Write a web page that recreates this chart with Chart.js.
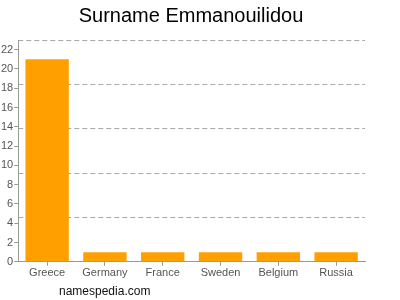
<!DOCTYPE html>
<html>
<head>
<meta charset="utf-8">
<script src="https://cdn.jsdelivr.net/npm/chart.js@4"></script>
<style>
  body { margin: 0; background: #fff; }
  #wrap { position: relative; width: 400px; height: 300px; }
  #credit { position: absolute; left: 59px; top: 284px; font: 12px "Liberation Sans", Arial, sans-serif; color: #111; }
</style>
</head>
<body>
<div id="wrap">
  <canvas id="myChart" width="400" height="300"></canvas>
  <div id="credit">namespedia.com</div>
</div>
<script>
// Data
const countries = ['Greece', 'Germany', 'France', 'Sweden', 'Belgium', 'Russia'];
const counts = [21, 1, 1, 1, 1, 1];
const yTickLabels = [0, 2, 4, 6, 8, 10, 12, 14, 16, 18, 20, 22];
const gridLevels = [4.6, 9.2, 13.8, 18.4, 23];

const ctx = document.getElementById('myChart').getContext('2d');
new Chart(ctx, {
  type: 'bar',
  data: {
    labels: countries,
    datasets: [{
      data: counts,
      backgroundColor: '#ffa000',
      borderWidth: 0,
      categoryPercentage: 0.75,
      barPercentage: 1
    }]
  },
  options: {
    responsive: false,
    animation: false,
    layout: { padding: { left: 0, right: 18, top: 0, bottom: 19 } },
    plugins: {
      legend: { display: false },
      tooltip: { enabled: false },
      title: {
        display: true,
        text: 'Surname Emmanouilidou',
        color: '#000',
        font: { family: 'Liberation Sans', size: 20, weight: 'normal' },
        padding: { top: 4, bottom: 12 }
      }
    },
    scales: {
      x: {
        grid: { drawOnChartArea: false, drawTicks: true, tickLength: 4, offset: false, color: '#999' },
        border: { display: true, color: '#999' },
        ticks: { color: '#555', font: { family: 'Liberation Sans', size: 11 }, padding: 1 }
      },
      y: {
        min: 0,
        max: 23,
        afterBuildTicks: axis => { axis.ticks = yTickLabels.map(v => ({ value: v })); },
        grid: { drawOnChartArea: false, drawTicks: true, tickLength: 4, color: '#999' },
        border: { display: true, color: '#999' },
        ticks: { color: '#555', font: { family: 'Liberation Sans', size: 11 }, padding: 1 }
      },
      yGrid: {
        position: 'right',
        min: 0,
        max: 23,
        afterBuildTicks: axis => { axis.ticks = gridLevels.map(v => ({ value: v })); },
        afterFit: axis => { axis.width = 17; },
        ticks: { display: false },
        grid: { drawTicks: false, color: '#aaa' },
        border: { display: false, dash: [5, 3] }
      }
    }
  }
});
</script>
</body>
</html>
